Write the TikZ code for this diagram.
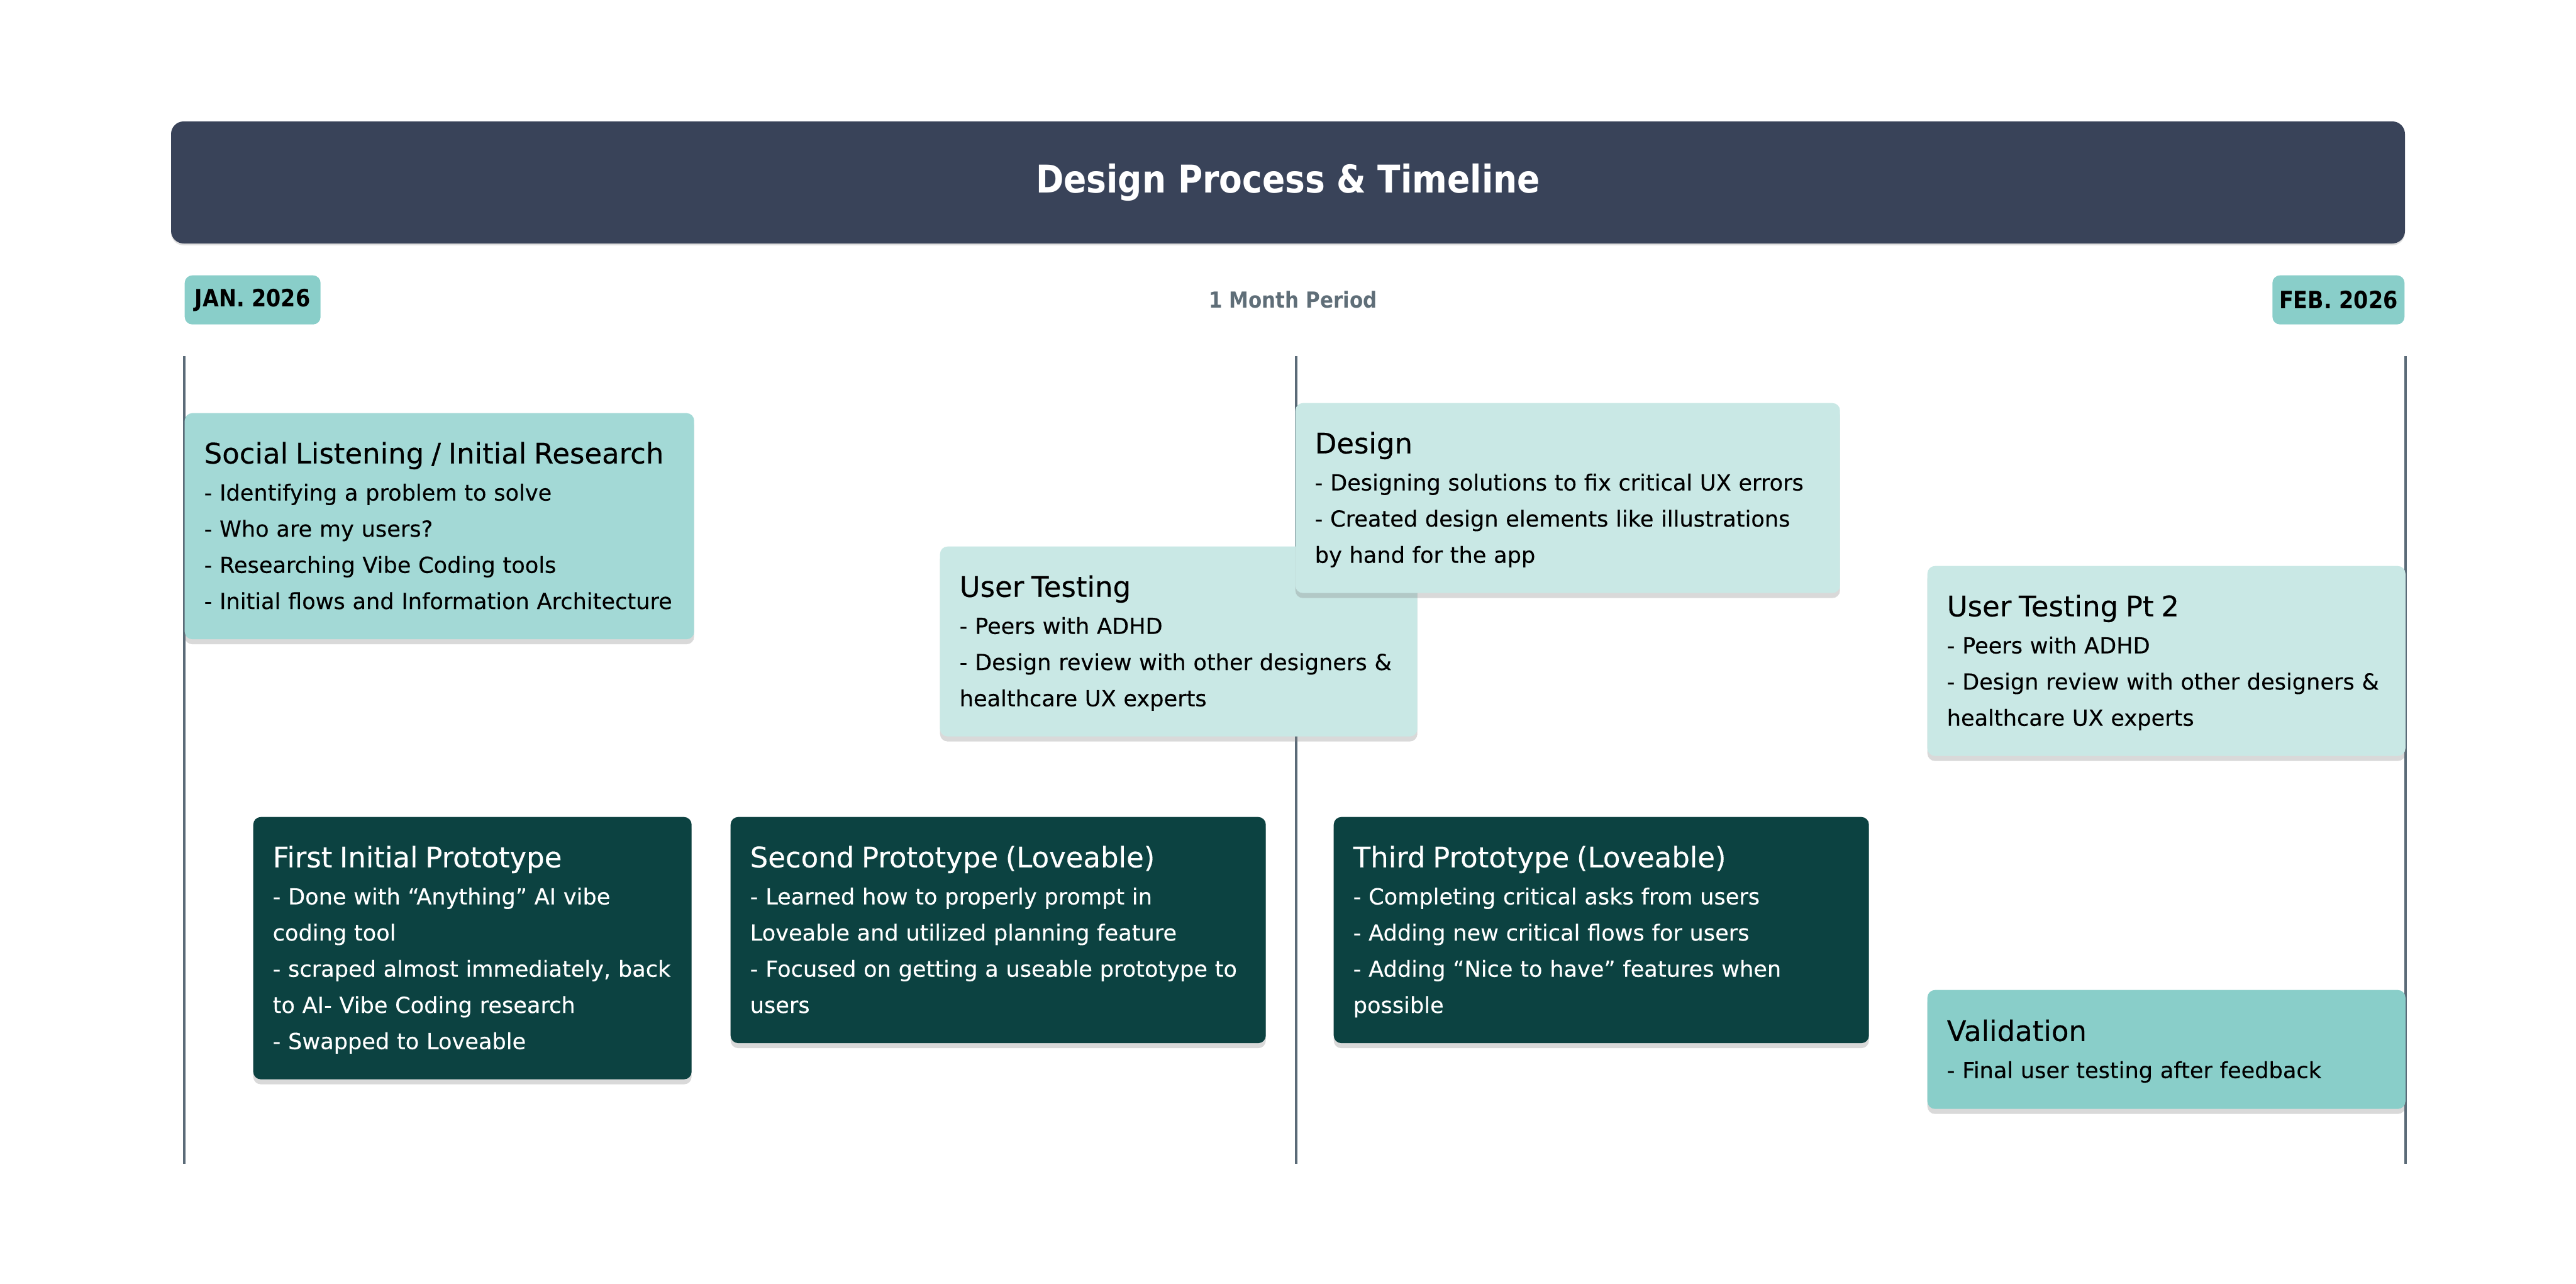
\documentclass[tikz,border=0pt]{standalone}
\usepackage{fontspec}
\setmainfont[FakeBold=0.3]{DejaVu Sans}
\newfontfamily\headfont[FakeStretch=0.88]{DejaVu Sans}
\usetikzlibrary{shadows}

\definecolor{headbg}{HTML}{394359}
\definecolor{tagteal}{HTML}{89CEC9}
\definecolor{midteal}{HTML}{A3D9D6}
\definecolor{paleteal}{HTML}{C9E8E5}
\definecolor{darkteal}{HTML}{0C4241}
\definecolor{slate}{HTML}{5B6B78}
\definecolor{periodgray}{HTML}{5F6E78}

\newcommand{\cardtitle}[1]{{\fontsize{12.8}{16.36}\selectfont #1}\\[0.4pt]}

\begin{document}
\begin{tikzpicture}[
  timeline/.style={draw=slate, line width=1.14pt},
  header/.style={fill=headbg, text=white, rounded corners=0.2cm, inner sep=0pt,
    minimum width=35.52cm, minimum height=1.94cm,
    drop shadow={shadow xshift=0cm, shadow yshift=-0.03cm, opacity=0.25},
    font=\headfont\bfseries\fontsize{17.3}{20}\selectfont},
  tag/.style={fill=tagteal, rounded corners=0.12cm, inner sep=0pt,
    minimum height=0.78cm, font=\headfont\bfseries\fontsize{10.8}{13}\selectfont},
  card/.style={rounded corners=0.12cm, anchor=north west, inner sep=0pt, text width=#1,
    font=\fontsize{10}{16.36}\selectfont,
    drop shadow={shadow xshift=0cm, shadow yshift=-0.08cm, opacity=0.3},
    execute at begin node={\raggedright\leftskip=0.31cm\rule{0pt}{0.80cm}},
    execute at end node={\rule[-0.48cm]{0pt}{0pt}}}
]
  \useasboundingbox (0,0) rectangle (40.96,-20.40);

  % header and period labels
  \node[header] (title) at (20.48,-2.90) {Design Process \& Timeline};
  \node[tag, minimum width=2.16cm, anchor=north west] (jan) at (2.93,-4.37) {JAN. 2026};
  \node[tag, minimum width=2.10cm, anchor=north east] (feb) at (38.24,-4.37) {FEB. 2026};
  \node[text=periodgray, font=\headfont\bfseries\fontsize{10}{12}\selectfont] (period) at (20.56,-4.76) {1 Month Period};

  % timeline rules
  \coordinate (start-top) at (2.93,-5.66);
  \coordinate (start-end) at (2.93,-18.50);
  \coordinate (mid-top) at (20.61,-5.66);
  \coordinate (mid-end) at (20.61,-18.50);
  \coordinate (finish-top) at (38.25,-5.66);
  \coordinate (finish-end) at (38.25,-18.50);
  \draw[timeline] (start-top) -- (start-end);
  \draw[timeline] (mid-top) -- (mid-end);
  \draw[timeline] (finish-top) -- (finish-end);

  % upper row
  \node[card=8.10cm, fill=midteal, minimum height=3.58cm] (research) at (2.93,-6.56)
    {\cardtitle{Social Listening / Initial Research}- Identifying a problem to solve\\- Who are my users?\\- Researching Vibe Coding tools\\- Initial flows and Information Architecture};
  \node[card=7.59cm, fill=paleteal, minimum height=3.01cm] (testing) at (14.94,-8.68)
    {\cardtitle{User Testing}- Peers with ADHD\\- Design review with other designers \&\\healthcare UX experts};
  \node[card=8.66cm, fill=paleteal, minimum height=3.00cm] (design) at (20.59,-6.40)
    {\cardtitle{Design}- Designing solutions to fix critical UX errors\\- Created design elements like illustrations\\by hand for the app};
  \node[card=7.60cm, fill=paleteal, minimum height=3.01cm] (testing2) at (30.64,-8.99)
    {\cardtitle{User Testing Pt 2}- Peers with ADHD\\- Design review with other designers \&\\healthcare UX experts};

  % lower row
  \node[card=6.97cm, fill=darkteal, text=white, minimum height=4.15cm] (proto1) at (4.02,-12.98)
    {\cardtitle{First Initial Prototype}- Done with “Anything” AI vibe\\coding tool\\- scraped almost immediately, back\\to AI- Vibe Coding research\\- Swapped to Loveable};
  \node[card=8.51cm, fill=darkteal, text=white, minimum height=3.58cm] (proto2) at (11.61,-12.98)
    {\cardtitle{Second Prototype (Loveable)}- Learned how to properly prompt in\\Loveable and utilized planning feature\\- Focused on getting a useable prototype to\\users};
  \node[card=8.51cm, fill=darkteal, text=white, minimum height=3.58cm] (proto3) at (21.20,-12.98)
    {\cardtitle{Third Prototype (Loveable)}- Completing critical asks from users\\- Adding new critical flows for users\\- Adding “Nice to have” features when\\possible};
  \node[card=7.60cm, fill=tagteal, minimum height=1.89cm] (validation) at (30.64,-15.73)
    {\cardtitle{Validation}- Final user testing after feedback};
\end{tikzpicture}
\end{document}
